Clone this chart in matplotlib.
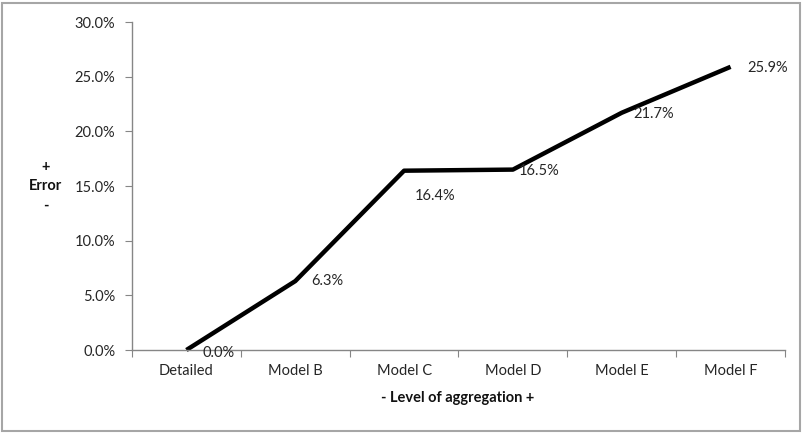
import matplotlib.pyplot as plt
from matplotlib.patches import Rectangle
from matplotlib.ticker import FuncFormatter, FixedLocator, NullFormatter

plt.rcParams['font.family'] = ['Lato', 'DejaVu Sans']

categorias = ["Detailed", "Model B", "Model C", "Model D", "Model E", "Model F"]
errores = [0.0, 6.3, 16.4, 16.5, 21.7, 25.9]
# desplazamiento de cada etiqueta en puntos (x, y)
desplazamientos = [(23, -2), (23, 0), (22, -18), (19, -1), (23, -1), (27, -1)]

gris = "#868686"
texto = "#262626"
fs = 10.5

fig = plt.figure(figsize=(8.03, 4.33), dpi=100)
ax = fig.add_axes([132 / 803, 1 - 350 / 433, (785 - 132) / 803, (350 - 22) / 433])

x = list(range(len(categorias)))
ax.plot(x, errores, color="black", lw=3.2, solid_capstyle="butt", solid_joinstyle="round", clip_on=False)

for xi, v, d in zip(x, errores, desplazamientos):
    ax.annotate(f"{v:.1f}%", (xi, v), xytext=d, textcoords="offset points",
                ha="center", va="center", fontsize=fs, color=texto)

ax.set_xlim(-0.5, len(categorias) - 0.5)
ax.set_ylim(0, 30)
ax.set_yticks([0, 5, 10, 15, 20, 25, 30])
ax.yaxis.set_major_formatter(FuncFormatter(lambda v, p: f"{v:.1f}%"))

# marcas del eje x entre categorias, nombres centrados
ax.xaxis.set_major_locator(FixedLocator([i - 0.5 for i in range(len(categorias) + 1)]))
ax.xaxis.set_major_formatter(NullFormatter())
ax.set_xticks(x, minor=True)
ax.set_xticklabels(categorias, minor=True)
ax.tick_params(axis="x", which="minor", length=0, pad=10, labelsize=fs, labelcolor=texto)
ax.tick_params(axis="x", which="major", length=5, color=gris, direction="out")
ax.tick_params(axis="y", length=5, color=gris, labelsize=fs, labelcolor=texto, pad=7)

for s in ["top", "right"]:
    ax.spines[s].set_visible(False)
for s in ["left", "bottom"]:
    ax.spines[s].set_color(gris)
    ax.spines[s].set_linewidth(1)

fig.text(46 / 803, 1 - 186 / 433, "+\nError\n-", ha="center", va="center",
         fontsize=fs, fontweight="bold", linespacing=1.5, color="#111111")
fig.text(458 / 803, 1 - 398 / 433, "- Level of aggregation +", ha="center", va="center",
         fontsize=fs, fontweight="bold", color="#111111")

fig.patches.append(Rectangle((2 / 803, 2 / 433), 798 / 803, 428 / 433, transform=fig.transFigure,
                             fill=False, edgecolor="#a6a6a6", lw=1.5))

fig.savefig("out.png", dpi=100)
